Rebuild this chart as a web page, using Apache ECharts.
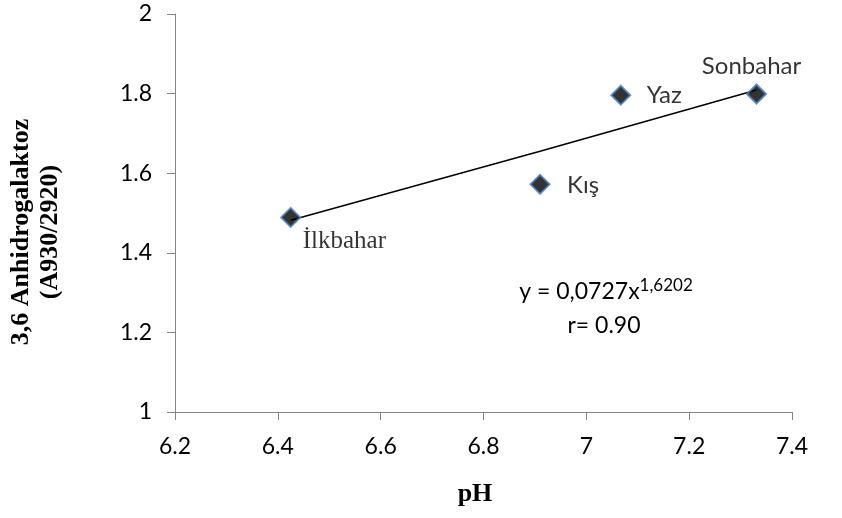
<!DOCTYPE html>
<html><head><meta charset="utf-8">
<script src="https://cdn.jsdelivr.net/npm/echarts@6/dist/echarts.min.js"></script>
<style>html,body{margin:0;padding:0;background:#fff}#c{width:842px;height:518px}</style>
</head><body><div id="c"></div>
<script>
var seasons = ['İlkbahar', 'Kış', 'Yaz', 'Sonbahar'];
var phValues = [6.425, 6.910, 7.067, 7.331];
var ahValues = [1.489, 1.572, 1.796, 1.799];
var trendX = [6.425, 6.91, 7.331];
var trendY = [1.482, 1.655, 1.809];
var xTicks = [6.2, 7.4, 0.2];
var yTicks = [1, 2, 0.2];

var sans = 'Lato';
var serif = 'Liberation Serif';
var labelCfg = {
  'İlkbahar': {offset: [12, 24], align: 'left', fontFamily: serif, fontSize: 25},
  'Kış': {offset: [27, 1], align: 'left', fontFamily: sans, fontSize: 24},
  'Yaz': {offset: [26, 0], align: 'left', fontFamily: sans, fontSize: 24},
  'Sonbahar': {offset: [-5, -28], align: 'center', fontFamily: sans, fontSize: 24}
};
var pts = seasons.map(function (s, i) {
  var c = labelCfg[s];
  return {
    name: s, value: [phValues[i], ahValues[i]],
    label: {show: true, formatter: s, position: 'inside', align: c.align, verticalAlign: 'middle',
      offset: c.offset, fontFamily: c.fontFamily, fontSize: c.fontSize, color: '#000'}
  };
});
var trend = trendX.map(function (x, i) { return [x, trendY[i]]; });

var chart = echarts.init(document.getElementById('c'));
chart.setOption({
  animation: false,
  backgroundColor: '#fff',
  grid: {left: 175, right: 50, top: 14, bottom: 106},
  xAxis: {
    type: 'value', min: xTicks[0], max: xTicks[1], interval: xTicks[2],
    axisLine: {lineStyle: {color: '#868686', width: 1}},
    axisTick: {show: true, length: 8, lineStyle: {color: '#868686'}},
    splitLine: {show: false},
    axisLabel: {fontFamily: sans, fontSize: 23, color: '#000', margin: 23}
  },
  yAxis: {
    type: 'value', min: yTicks[0], max: yTicks[1], interval: yTicks[2],
    axisLine: {show: true, lineStyle: {color: '#868686', width: 1}},
    axisTick: {show: true, length: 8, lineStyle: {color: '#868686'}},
    splitLine: {show: false},
    axisLabel: {fontFamily: sans, fontSize: 23, color: '#000', margin: 23}
  },
  graphic: [
    {type: 'text', x: 36, y: 232, rotation: Math.PI / 2,
      style: {text: '3,6 Anhidrogalaktoz\n(A930/2920)', align: 'center', verticalAlign: 'middle',
        font: 'bold 26px "Liberation Serif"', fill: '#000', lineHeight: 29}},
    {type: 'text', x: 475, y: 494,
      style: {text: 'pH', align: 'center', verticalAlign: 'middle',
        font: 'bold 26px "Liberation Serif"', fill: '#000'}},
    {type: 'text', x: 606, y: 292,
      style: {rich: {b: {fontFamily: sans, fontSize: 23, color: '#000'}, s: {fontFamily: sans, fontSize: 17, color: '#000', verticalAlign: 'top', padding: [0, 0, 12, 0]}},
        text: '{b|y = 0,0727x}{s|1,6202}', align: 'center', verticalAlign: 'middle'}},
    {type: 'text', x: 604, y: 326,
      style: {text: 'r= 0.90', align: 'center', verticalAlign: 'middle',
        font: '23px Lato', fill: '#000'}}
  ],
  series: [
    {type: 'line', data: trend, showSymbol: false, symbol: 'none', smooth: false,
      lineStyle: {color: '#000', width: 1.5}, z: 2},
    {type: 'scatter', data: pts, symbol: 'diamond', symbolSize: 19,
      itemStyle: {color: '#000', borderColor: '#4a7ebb', borderWidth: 2}, z: 3}
  ]
});
</script></body></html>
